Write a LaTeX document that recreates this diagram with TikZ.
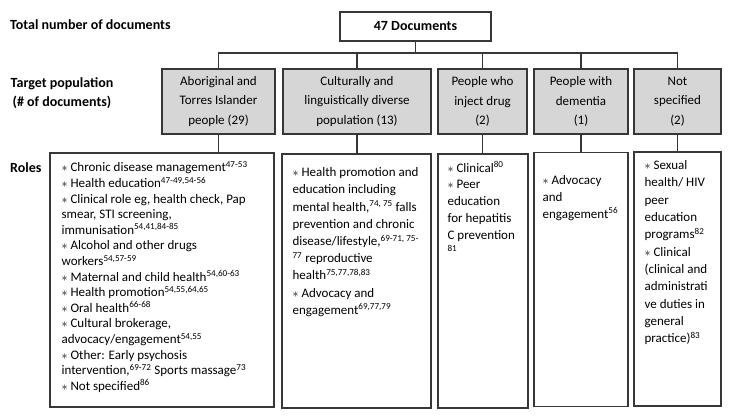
\documentclass[tikz,border=0pt]{standalone}
\usepackage{fontspec}
\setmainfont{Carlito}
\usetikzlibrary{positioning}

\definecolor{boxgray}{RGB}{214,214,214}
\definecolor{edgegray}{RGB}{55,55,55}

\tikzset{
  head/.style={font=\bfseries\fontsize{14}{19}\selectfont, inner sep=0pt},
  topbox/.style={draw=edgegray, line width=1.2pt, minimum width=151pt, minimum height=29pt, font=\bfseries\fontsize{14}{17}\selectfont},
  popbox/.style={draw=edgegray, line width=1.2pt, fill=boxgray, minimum height=65pt, inner sep=0pt, align=center, font=\fontsize{13}{19.5}\selectfont},
  rolebox/.style={draw=edgegray, line width=1.2pt, minimum height=254pt, inner sep=0pt},
  roletext/.style={anchor=north west, inner sep=0pt, align=left, font=\fontsize{13}{17}\selectfont},
  link/.style={draw=edgegray, line width=1.2pt},
}
\newcommand{\itm}{$\ast$\ }
\newcommand{\rf}[1]{\textsuperscript{#1}}

\begin{document}
\begin{tikzpicture}[x=1pt, y=-1pt]
  \useasboundingbox (0,0) rectangle (734,419);

  % row labels
  \node[head, anchor=west] (lbltotal) at (10,25) {Total number of documents};
  \node[head, align=center] (lblpop) at (62,93.5) {Target population\\(\# of documents)};
  \node[head, anchor=west] (lblroles) at (10,168) {Roles};

  % total
  \node[topbox] (total) at (415.5,26.5) {47 Documents};
  \coordinate (bus) at (0,53);

  % target population
  \node[popbox, minimum width=113pt] (t1) at (218.5,101.5) {Aboriginal and\\Torres Islander\\people (29)};
  \node[popbox, minimum width=148pt] (t2) at (357,101.5) {Culturally and\\linguistically diverse\\population (13)};
  \node[popbox, minimum width=89pt] (t3) at (482.5,101.5) {People who\\inject drug\\(2)};
  \node[popbox, minimum width=94pt] (t4) at (581,101.5) {People with\\dementia\\(1)};
  \node[popbox, minimum width=87pt] (t5) at (677.5,101.5) {Not\\specified\\(2)};

  % roles
  \node[rolebox, minimum width=224pt] (r1) at (162,280) {};
  \node[rolebox, minimum width=149pt] (r2) at (356.5,281) {};
  \node[rolebox, minimum width=90pt] (r3) at (483,281) {};
  \node[rolebox, minimum width=94pt] (r4) at (581,279.5) {};
  \node[rolebox, minimum width=87pt] (r5) at (677.5,279) {};

  \node[roletext, font=\fontsize{13}{15.6}\selectfont] (r1text) at ([xshift=12pt,yshift=-9pt]r1.north west)
    {\itm Chronic disease management\rf{47-53}\\
     \itm Health education\rf{47-49,54-56}\\
     \itm Clinical role eg, health check, Pap\\
     smear, STI screening,\\
     immunisation\rf{54,41,84-85}\\
     \itm Alcohol and other drugs\\
     workers\rf{54,57-59}\\
     \itm Maternal and child health\rf{54,60-63}\\
     \itm Health promotion\rf{54,55,64,65}\\
     \itm Oral health\rf{66-68}\\
     \itm Cultural brokerage,\\
     advocacy/engagement\rf{54,55}\\
     \itm Other: Early psychosis\\
     intervention,\rf{69-72} Sports massage\rf{73}\\
     \itm Not specified\rf{86}};
  \node[roletext, font=\fontsize{13}{17.2}\selectfont] (r2text) at ([xshift=11pt,yshift=-14pt]r2.north west)
    {\itm Health promotion and\\
     education including\\
     mental health,\rf{74, 75} falls\\
     prevention and chronic\\
     disease/lifestyle,\rf{69-71, 75-}\\
     \rf{77} reproductive\\
     health\rf{75,77,78,83}\\
     \itm Advocacy and\\
     engagement\rf{69,77,79}};
  \node[roletext, font=\fontsize{13}{16.8}\selectfont] (r3text) at ([xshift=10pt,yshift=-8pt]r3.north west)
    {\itm Clinical\rf{80}\\
     \itm Peer\\
     education\\
     for hepatitis\\
     C prevention\\
     \rf{81}};
  \node[roletext] (r4text) at ([xshift=9pt,yshift=-23pt]r4.north west)
    {\itm Advocacy\\
     and\\
     engagement\rf{56}};
  \node[roletext, font=\fontsize{13}{17.3}\selectfont] (r5text) at ([xshift=11pt,yshift=-9pt]r5.north west)
    {\itm Sexual\\
     health/ HIV\\
     peer\\
     education\\
     programs\rf{82}\\
     \itm Clinical\\
     (clinical and\\
     administrati\\
     ve duties in\\
     general\\
     practice)\rf{83}};

  % connectors
  \draw[link] (total.south) -- (total.south |- bus);
  \foreach \i in {1,...,5}{
    \draw[link] (total.south |- bus) -| (t\i.north);
    \draw[link] (t\i.south) -- (t\i.south |- r\i.north);
  }
\end{tikzpicture}
\end{document}
